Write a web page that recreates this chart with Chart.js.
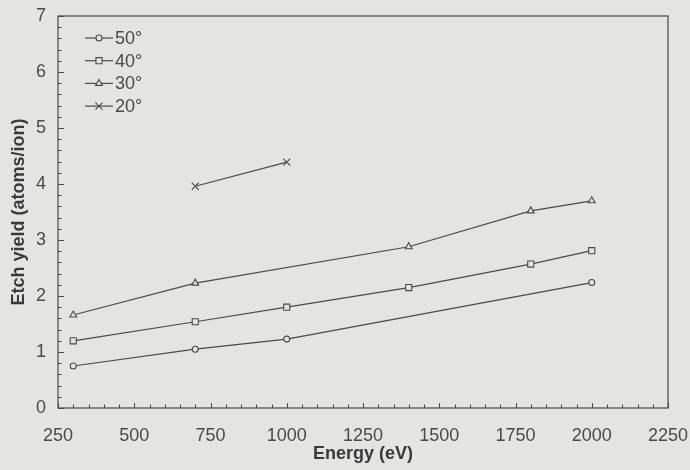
<!DOCTYPE html>
<html>
<head>
<meta charset="utf-8">
<script src="https://cdn.jsdelivr.net/npm/chart.js@4.4.1/dist/chart.umd.min.js"></script>
<style>
  html, body { margin: 0; padding: 0; background: #e4e4e2; }
  #wrap { width: 690px; height: 470px; }
</style>
</head>
<body>
<div id="wrap"><canvas id="c" width="690" height="470"></canvas></div>
<script>
// ---- data ----
const seriesLabels = ['50°', '40°', '30°', '20°'];
const energy50 = [300, 700, 1000, 2000];
const yield50  = [0.75, 1.05, 1.23, 2.24];
const energy40 = [300, 700, 1000, 1400, 1800, 2000];
const yield40  = [1.20, 1.54, 1.80, 2.15, 2.57, 2.81];
const energy30 = [300, 700, 1400, 1800, 2000];
const yield30  = [1.66, 2.23, 2.88, 3.52, 3.70];
const energy20 = [700, 1000];
const yield20  = [3.96, 4.39];
const xMin = 250, xMax = 2250, xStep = 250, xMinor = 50;
const yMin = 0, yMax = 7, yStep = 1, yMinor = 0.2;

const BG = '#e4e4e2';
const INK = '#4a4a4a';
const FONT = '"Liberation Sans", Arial, Helvetica, sans-serif';

function pts(xs, ys) { return xs.map((x, i) => ({ x: x, y: ys[i] })); }

const styles = [
  { pointStyle: 'circle',   radius: 3 },
  { pointStyle: 'rect',     radius: 4.3 },
  { pointStyle: 'triangle', radius: 4 },
  { pointStyle: 'crossRot', radius: 5 }
];
const seriesData = [pts(energy50, yield50), pts(energy40, yield40), pts(energy30, yield30), pts(energy20, yield20)];

const datasets = seriesData.map((d, i) => ({
  label: seriesLabels[i],
  data: d,
  borderColor: INK,
  borderWidth: 1.2,
  pointStyle: styles[i].pointStyle,
  pointRadius: styles[i].radius,
  pointBorderColor: INK,
  pointBackgroundColor: BG,
  pointBorderWidth: 1.1,
  fill: false,
  tension: 0
}));

function drawMarker(ctx, style, r, x, y) {
  ctx.save();
  ctx.strokeStyle = INK; ctx.fillStyle = BG; ctx.lineWidth = 1.1;
  ctx.beginPath();
  if (style === 'circle') { ctx.arc(x, y, r, 0, Math.PI * 2); ctx.fill(); ctx.stroke(); }
  else if (style === 'rect') { const s = r * Math.SQRT1_2; ctx.rect(x - s, y - s, 2 * s, 2 * s); ctx.fill(); ctx.stroke(); }
  else if (style === 'triangle') {
    ctx.moveTo(x, y - r);
    ctx.lineTo(x + r * Math.cos(Math.PI / 6), y + r * 0.5);
    ctx.lineTo(x - r * Math.cos(Math.PI / 6), y + r * 0.5);
    ctx.closePath(); ctx.fill(); ctx.stroke();
  } else {
    const o = r * Math.SQRT1_2;
    ctx.moveTo(x - o, y - o); ctx.lineTo(x + o, y + o);
    ctx.moveTo(x + o, y - o); ctx.lineTo(x - o, y + o);
    ctx.stroke();
  }
  ctx.restore();
}

const framePlugin = {
  id: 'frame',
  beforeDraw(chart) {
    const ctx = chart.ctx;
    ctx.save(); ctx.fillStyle = BG; ctx.fillRect(0, 0, chart.width, chart.height); ctx.restore();
  },
  afterDraw(chart) {
    const ctx = chart.ctx, a = chart.chartArea;
    const xs = chart.scales.x, ys = chart.scales.y;
    ctx.save();
    ctx.strokeStyle = INK; ctx.lineWidth = 1.2;
    ctx.strokeRect(a.left, a.top, a.right - a.left, a.bottom - a.top);
    ctx.lineWidth = 1;
    ctx.beginPath();
    // x ticks, inward from bottom
    for (let v = xMin; v <= xMax + 1e-9; v += xMinor) {
      const px = Math.round(xs.getPixelForValue(v)) + 0.5;
      const major = Math.abs((v - xMin) % xStep) < 1e-6;
      const len = major ? 5 : 3.5;
      ctx.moveTo(px, a.bottom); ctx.lineTo(px, a.bottom - len);
    }
    // y ticks, inward from left
    for (let i = 0; yMin + i * yMinor <= yMax + 1e-9; i++) {
      const v = yMin + i * yMinor;
      const py = Math.round(ys.getPixelForValue(v)) + 0.5;
      const major = i % Math.round(yStep / yMinor) === 0;
      const len = major ? 6 : 3.5;
      ctx.moveTo(a.left, py); ctx.lineTo(a.left + len, py);
    }
    ctx.stroke();

    // legend inside plot, top-left
    const lx = a.left + 27, ly = a.top + 22, dy = 22.7;
    chart.data.datasets.forEach((ds, i) => {
      const y = ly + i * dy;
      ctx.beginPath();
      ctx.strokeStyle = INK; ctx.lineWidth = 1.2;
      ctx.moveTo(lx, y); ctx.lineTo(lx + 28, y); ctx.stroke();
      drawMarker(ctx, ds.pointStyle, ds.pointRadius, lx + 14, y);
      ctx.fillStyle = INK;
      ctx.font = '18px ' + FONT;
      ctx.textBaseline = 'middle';
      ctx.textAlign = 'left';
      ctx.fillText(ds.label, lx + 30, y + 1);
    });
    ctx.restore();
  }
};

new Chart(document.getElementById('c'), {
  type: 'line',
  data: { datasets: datasets },
  plugins: [framePlugin],
  options: {
    responsive: false,
    animation: false,
    layout: { padding: { left: 0, top: 16, right: 22, bottom: 0 } },
    plugins: { legend: { display: false }, tooltip: { enabled: false } },
    scales: {
      x: {
        type: 'linear', min: xMin, max: xMax,
        afterFit(s) { s.height = 62; s.paddingLeft = 0; s.paddingRight = 0; },
        ticks: { stepSize: xStep, color: INK, font: { family: FONT, size: 18 }, padding: 17, maxRotation: 0,
                 callback: v => String(v) },
        grid: { display: false, drawTicks: false },
        border: { display: false },
        title: { display: true, text: 'Energy (eV)', color: '#3a3a3a', font: { family: FONT, size: 18, weight: 'bold' }, padding: { top: 0, bottom: 5 } }
      },
      y: {
        type: 'linear', min: yMin, max: yMax,
        afterFit(s) { s.width = 58; s.paddingTop = 0; s.paddingBottom = 0; },
        ticks: { stepSize: yStep, color: INK, font: { family: FONT, size: 18 }, padding: 12,
                 callback: v => String(v) },
        grid: { display: false, drawTicks: false },
        border: { display: false },
        title: { display: true, text: 'Etch yield (atoms/ion)', color: '#3a3a3a', font: { family: FONT, size: 18, weight: 'bold' }, padding: { top: 8, bottom: 0 } }
      }
    }
  }
});
</script>
</body>
</html>
